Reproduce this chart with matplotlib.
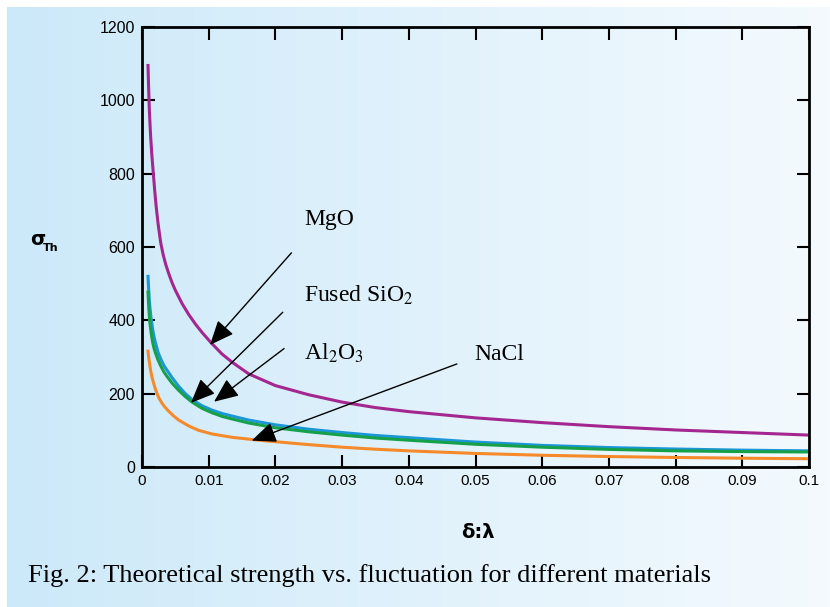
import numpy as np
import matplotlib.pyplot as plt
from matplotlib.colors import LinearSegmentedColormap

plt.rcParams['font.family'] = ['Liberation Sans', 'DejaVu Sans']
plt.rcParams['mathtext.fontset'] = 'stix'

# values (delta:lambda vs sigma_Th)
mgo_x = [0.0009, 0.001, 0.0011, 0.0012, 0.0013, 0.0015, 0.0017, 0.0019, 0.0021,
         0.0024, 0.0028, 0.0032, 0.0036, 0.004, 0.0045, 0.005, 0.006, 0.007,
         0.008, 0.009, 0.0104, 0.012, 0.0135, 0.016, 0.02, 0.025, 0.03, 0.035,
         0.04, 0.05, 0.06, 0.07, 0.08, 0.09, 0.1]
mgo_y = [1095, 1030, 975, 935, 900, 845, 800, 755, 715,
         665, 612, 577, 550, 528, 503, 482, 446, 416,
         390, 367, 338, 308, 286, 254, 222, 197, 177, 162,
         151, 134, 121, 110, 101, 94, 87]

sio2_x = [0.0009, 0.001, 0.0011, 0.0012, 0.0014, 0.0016, 0.0018, 0.002, 0.0024,
          0.0028, 0.0033, 0.00375, 0.0045, 0.0055, 0.0065, 0.0075, 0.009, 0.0105,
          0.012, 0.0135, 0.016, 0.02, 0.025, 0.03, 0.035, 0.04, 0.05, 0.06,
          0.07, 0.08, 0.09, 0.1]
sio2_y = [520, 485, 455, 432, 400, 375, 355, 340, 313,
          295, 276, 264, 244, 220, 200, 184, 167, 155,
          146, 139, 128, 115, 103, 94, 86, 80, 68, 59,
          53, 49, 46, 44]

al2o3_x = [0.0009, 0.001, 0.0011, 0.0012, 0.0014, 0.0016, 0.0018, 0.002, 0.0024,
           0.0028, 0.0033, 0.00375, 0.0045, 0.0055, 0.0065, 0.0075, 0.009, 0.0105,
           0.012, 0.0135, 0.016, 0.02, 0.025, 0.03, 0.035, 0.04, 0.05, 0.06,
           0.07, 0.08, 0.09, 0.1]
al2o3_y = [477, 440, 410, 390, 362, 340, 324, 312, 292,
           276, 259, 247, 229, 209, 192, 177, 160, 148,
           138, 131, 120, 107, 96, 87, 79, 73, 62, 54,
           48, 44, 42, 41]

nacl_x = [0.0009, 0.001, 0.0011, 0.0012, 0.00135, 0.0015, 0.00175, 0.002, 0.00225,
          0.0026, 0.003, 0.0035, 0.004, 0.0047, 0.0055, 0.007, 0.0085, 0.0105,
          0.0135, 0.017, 0.02, 0.025, 0.03, 0.035, 0.04, 0.05, 0.06, 0.07,
          0.08, 0.09, 0.1]
nacl_y = [316, 300, 286, 274, 258, 245, 228, 213, 200,
          186, 174, 162, 152, 140, 128, 112, 100, 90,
          81, 74, 69, 61, 54, 48.5, 44, 37, 32, 28.5,
          26, 24, 22.5]

fig = plt.figure(figsize=(8.3, 6.07), dpi=100)

# light blue gradient panel with a thin white margin top/left
bg = fig.add_axes([7 / 830, 0, 823 / 830, 600 / 607])
bg.axis('off')
cmap = LinearSegmentedColormap.from_list('panel', ['#cce9f9', '#f4fafe'])
bg.imshow(np.linspace(0, 1, 256).reshape(1, -1), aspect='auto', cmap=cmap,
          extent=[0, 1, 0, 1])
bg.set_xlim(0, 1)
bg.set_ylim(0, 1)

ax = fig.add_axes([142 / 830, 140 / 607, 667 / 830, 440 / 607])
ax.patch.set_alpha(0)

ax.plot(mgo_x, mgo_y, color='#a3278f', lw=2.2)
ax.plot(sio2_x, sio2_y, color='#1b96d6', lw=2.2)
ax.plot(al2o3_x, al2o3_y, color='#17a04a', lw=2.2)
ax.plot(nacl_x, nacl_y, color='#f58a2b', lw=2.2)

ax.set_xlim(0, 0.1)
ax.set_ylim(0, 1200)
ax.set_xticks(np.arange(0, 0.101, 0.01))
ax.set_xticklabels(['0', '0.01', '0.02', '0.03', '0.04', '0.05', '0.06',
                    '0.07', '0.08', '0.09', '0.1'])
ax.set_yticks(range(0, 1201, 200))
ax.tick_params(direction='in', length=9, width=1.5, top=True, right=True,
               labelsize=11, pad=5)
ax.tick_params(axis='y', labelsize=11.5)
for s in ax.spines.values():
    s.set_linewidth(2)

arrow = dict(arrowstyle='-|>,head_length=0.75,head_width=0.32', color='black',
             lw=1, mutation_scale=20, shrinkA=0, shrinkB=0)
ax.annotate('', xy=(0.0102, 333), xytext=(0.0224, 584), arrowprops=arrow)
ax.annotate('', xy=(0.00735, 175), xytext=(0.0211, 422), arrowprops=arrow)
ax.annotate('', xy=(0.0108, 178), xytext=(0.0213, 323), arrowprops=arrow)
ax.annotate('', xy=(0.01645, 72), xytext=(0.0472, 281), arrowprops=arrow)

lab = dict(fontsize=17, family='Liberation Serif', va='baseline')
ax.text(0.0243, 660, 'MgO', **lab)
ax.text(0.0243, 450, 'Fused SiO$_2$', **lab)
ax.text(0.0243, 292, 'Al$_2$O$_3$', **lab)
ax.text(0.0499, 292, 'NaCl', **lab)

fig.text(30 / 830, 1 - 245 / 607, '\u03c3', fontsize=14, fontweight='bold',
         family='DejaVu Sans', va='baseline')
fig.text(43 / 830, 1 - 251 / 607, 'Th', fontsize=8, fontweight='bold',
         family='DejaVu Sans', va='baseline')
fig.text(478 / 830, 1 - 533 / 607, '\u03b4:\u03bb', fontsize=14, fontweight='bold',
         family='DejaVu Sans', ha='center', va='center')
fig.text(28 / 830, 1 - 582 / 607,
         'Fig. 2: Theoretical strength vs. fluctuation for different materials',
         fontsize=19, family='Liberation Serif', va='baseline')

fig.savefig('out.png', dpi=100)
